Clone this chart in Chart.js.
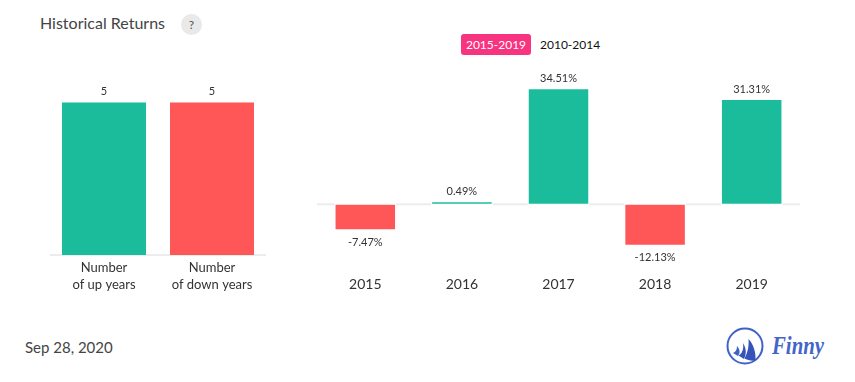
<!DOCTYPE html>
<html>
<head>
<meta charset="utf-8">
<script src="https://cdn.jsdelivr.net/npm/chart.js@4"></script>
<style>
    html, body { margin: 0; padding: 0; background: #fff; }
    body { width: 855px; height: 382px; position: relative; overflow: hidden; font-family: Lato, sans-serif; }
    canvas { position: absolute; }
    #title { position: absolute; left: 40px; top: 14px; font-size: 16px; line-height: 18px; color: #444; }
    #help { position: absolute; left: 181px; top: 13.5px; width: 21px; height: 21px; border-radius: 50%; background: #e9e9e9; color: #555; font-size: 12px; line-height: 21px; text-align: center; }
    #tab1 { position: absolute; left: 461px; top: 34px; width: 70px; height: 21px; border-radius: 3px; background: #f8337f; color: #fff; font-size: 12px; line-height: 21px; text-align: center; }
    #tab2 { position: absolute; left: 540px; top: 34px; color: #111; font-size: 12px; line-height: 21px; }
    #date { position: absolute; left: 25px; top: 338px; font-size: 15px; line-height: 19px; color: #444; }
    #logo { position: absolute; left: 720px; top: 322px; }
</style>
</head>
<body>
<div id="title">Historical Returns</div>
<div id="help">?</div>
<div id="tab1">2015-2019</div>
<div id="tab2">2010-2014</div>
<canvas id="countChart" width="216" height="228" style="left:50px;top:72px"></canvas>
<canvas id="returnChart" width="483" height="229" style="left:317px;top:71px"></canvas>
<div id="date">Sep 28, 2020</div>
<svg id="logo" width="115" height="50" viewBox="0 0 115 50">
    <circle cx="25" cy="24" r="17.5" fill="none" stroke="#3f62c6" stroke-width="2"/>
    <path d="M28.5 17 C34 23 36 31 35.5 38.5 C31 39 27 38 24.5 36.5 C28 30 29 24 28.5 17 Z" fill="#3553b8"/>
    <path d="M23 21 C24 27 22 32 18.5 33.5 L24 37 C27 31 26 26 23 21 Z" fill="#3553b8"/>
    <path d="M17 24 C17 28 15.5 30 13 31 L18 34 C20.5 31 20 27 17 24 Z" fill="#3f62c6"/>
    <text x="52" y="32" font-family="'Liberation Serif', serif" font-style="italic" font-weight="bold" font-size="25" fill="#4464c8" textLength="52" lengthAdjust="spacingAndGlyphs">Finny</text>
</svg>

<script>
const countLabels = [['Number', 'of up years'], ['Number', 'of down years']];
const countValues = [5, 5];
const years = ['2015', '2016', '2017', '2018', '2019'];
const returnValues = [-7.47, 0.49, 34.51, -12.13, 31.31];

const upColor = '#1abc9c';
const downColor = '#ff5757';

document.addEventListener("DOMContentLoaded", myLoadEvent);

// writes the value above or below each bar
function valueLabels(suffix) {
    return {
        id: 'valueLabels',
        afterDatasetsDraw(chart) {
            const ctx = chart.ctx;
            const values = chart.data.datasets[0].data;
            ctx.save();
            ctx.font = '11px Lato';
            ctx.fillStyle = '#333';
            ctx.textAlign = 'center';
            ctx.textBaseline = 'middle';
            chart.getDatasetMeta(0).data.forEach(function (bar, i) {
                const offset = values[i] < 0 ? 13 : -11;
                const text = values[i].toFixed(suffix ? 2 : 0) + suffix;
                ctx.fillText(text, bar.x, bar.y + offset);
            });
            ctx.restore();
        }
    };
}

// zero line is drawn here, the grid would eat half its width out of the bars
function zeroLine(gapped) {
    return {
        id: 'zeroLine',
        beforeDatasetsDraw(chart) {
            const ctx = chart.ctx;
            const area = chart.chartArea;
            const zero = chart.scales.y.getPixelForValue(0);
            ctx.save();
            ctx.fillStyle = '#ececec';
            ctx.fillRect(area.left, zero - 1, area.right - area.left, 2);
            if (gapped) {
                ctx.fillStyle = '#fff';
                chart.getDatasetMeta(0).data.forEach(function (bar) {
                    ctx.fillRect(bar.x - bar.width / 2 - 1, zero - 2, bar.width + 2, 4);
                });
            }
            ctx.restore();
        }
    };
}

function baseOptions(min, max, axisHeight, tickSize, yGrid) {
    return {
        responsive: false,
        animation: false,
        layout: { padding: 0 },
        plugins: { legend: { display: false }, tooltip: { enabled: false } },
        scales: {
            x: {
                afterFit(scale) { scale.height = axisHeight; },
                grid: { display: false, drawTicks: false },
                border: { display: false },
                ticks: { color: '#333', font: { family: 'Lato', size: tickSize, lineHeight: 1.25 }, padding: 5, maxRotation: 0, autoSkip: false }
            },
            y: {
                min: min,
                max: max,
                afterFit(scale) { scale.width = 0; },
                border: { display: false },
                ticks: { display: false, stepSize: 20 },
                grid: yGrid
            }
        }
    };
}

function myLoadEvent() {
    new Chart(document.getElementById('countChart'), {
        type: 'bar',
        data: {
            labels: countLabels,
            datasets: [{
                data: countValues,
                backgroundColor: [upColor, downColor],
                barPercentage: 84 / 108,
                categoryPercentage: 1
            }]
        },
        options: baseOptions(0, 6, 45, 13, { display: false }),
        plugins: [zeroLine(false), valueLabels('')]
    });

    new Chart(document.getElementById('returnChart'), {
        type: 'bar',
        data: {
            labels: years,
            datasets: [{
                data: returnValues,
                backgroundColor: returnValues.map(v => v < 0 ? downColor : upColor),
                barPercentage: 59.5 / 96.6,
                categoryPercentage: 1,
                minBarLength: 2
            }]
        },
        // transparent 1px grid keeps the pos and neg bars 1px apart at zero
        options: baseOptions(-20, 40, 29, 14, { drawTicks: false, lineWidth: 1, color: 'transparent' }),
        plugins: [zeroLine(true), valueLabels('%')]
    });
}
</script>
</body>
</html>
